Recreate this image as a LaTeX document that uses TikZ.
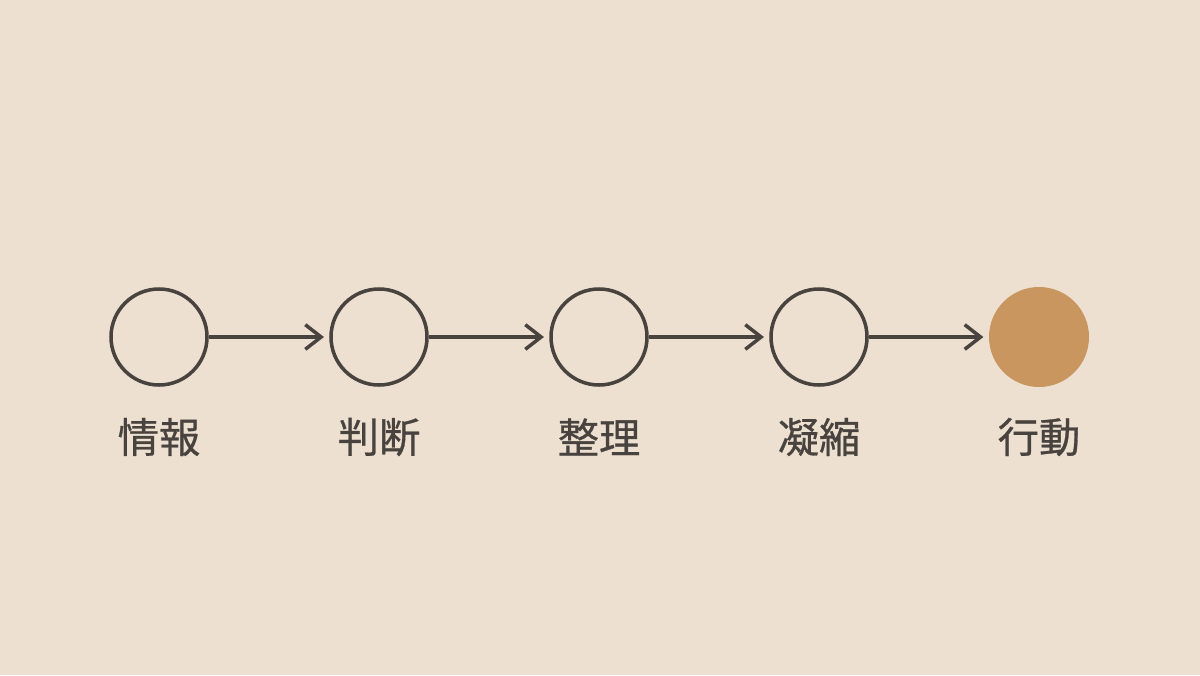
\documentclass[tikz,border=0pt]{standalone}
\usepackage{fontspec}
\setmainfont{Noto Sans CJK JP}
\newfontfamily\labelfont[FakeBold=0.7]{Noto Sans CJK JP}
\usetikzlibrary{positioning,arrows.meta}

\definecolor{paper}{HTML}{EDE0D0}
\definecolor{ink}{HTML}{48433F}
\definecolor{ochre}{HTML}{C8965E}

\tikzset{
    stage/.style={circle, draw=ink, line width=2pt, minimum size=1.92cm, inner sep=0pt},
    goal/.style={circle, fill=ochre, minimum size=2cm, inner sep=0pt},
    stagelabel/.style={text=ink, font=\labelfont\fontsize{23.5}{26}\selectfont},
    flow/.style={draw=ink, line width=1.8pt, shorten >=3pt, -{Straight Barb[length=9pt,width=14pt,line width=2pt]}}
}

\begin{document}
\begin{tikzpicture}
    % background and page size
    \fill[paper] (0,0) rectangle (24,13.5);
    \useasboundingbox (0,0) rectangle (24,13.5);

    % stages
    \node[stage] (info) at (3.18,6.76) {};
    \node[stage] (judge) at (7.58,6.76) {};
    \node[stage] (sort) at (11.98,6.76) {};
    \node[stage] (distill) at (16.38,6.76) {};
    \node[goal] (act) at (20.78,6.76) {};

    % labels
    \node[stagelabel] (infolabel) at (3.18,4.76) {情報};
    \node[stagelabel] (judgelabel) at (7.58,4.76) {判断};
    \node[stagelabel] (sortlabel) at (11.98,4.76) {整理};
    \node[stagelabel] (distilllabel) at (16.38,4.76) {凝縮};
    \node[stagelabel] (actlabel) at (20.78,4.76) {行動};

    % arrows
    \draw[flow] (info) -- (judge);
    \draw[flow] (judge) -- (sort);
    \draw[flow] (sort) -- (distill);
    \draw[flow] (distill) -- (act);
\end{tikzpicture}
\end{document}
